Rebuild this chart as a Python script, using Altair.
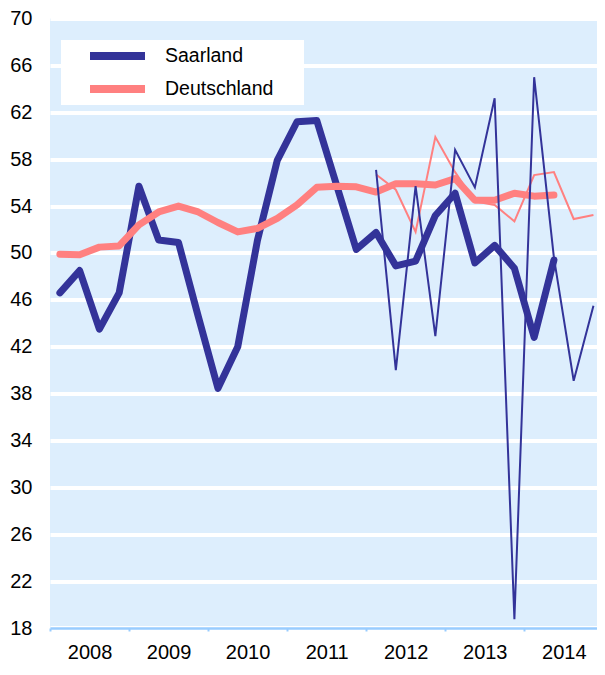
import altair as alt
import pandas as pd

# Quarterly periods 2008Q1 .. 2014Q4
quarters = [f"{y}Q{q}" for y in range(2008, 2015) for q in range(1, 5)]
years = [2008, 2009, 2010, 2011, 2012, 2013, 2014]

# Thick lines (2008Q1 .. 2014Q2)
saar_trend = [46.6, 48.5, 43.5, 46.6, 55.7, 51.1, 50.9, 44.6, 38.45, 42.0,
              51.1, 57.9, 61.2, 61.3, 55.8, 50.3, 51.75, 48.9, 49.3, 53.2,
              55.1, 49.15, 50.65, 48.7, 42.8, 49.4]
de_trend = [49.9, 49.85, 50.5, 50.6, 52.4, 53.5, 54.0, 53.5, 52.6, 51.8,
            52.1, 52.95, 54.1, 55.6, 55.7, 55.65, 55.2, 55.9, 55.9, 55.8,
            56.35, 54.5, 54.5, 55.1, 54.85, 54.95]
# Thin lines (2012Q1 .. 2014Q4)
saar_raw = [57.1, 40.0, 55.7, 42.9, 58.8, 55.6, 63.2, 18.75, 65.0, 49.6, 39.1, 45.5]
de_raw = [56.7, 55.4, 51.8, 59.9, 56.9, 54.4, 54.1, 52.7, 56.65, 56.9, 52.9, 53.25]

regions = ["Saarland", "Deutschland"]
colors = ["#333399", "#FF8080"]


def qpos(q):
    return int(q[:4]) + (int(q[-1]) - 0.5) / 4


def frame(values, start, region):
    qs = quarters[start:start + len(values)]
    return pd.DataFrame({"quarter": qs, "t": [qpos(q) for q in qs],
                         "v": values, "region": region})


trend_s = frame(saar_trend, 0, "Saarland")
trend_d = frame(de_trend, 0, "Deutschland")
raw_s = frame(saar_raw, 16, "Saarland")
raw_d = frame(de_raw, 16, "Deutschland")

FONT = "Liberation Sans"
PLOT_W = 547
X_MAX = 2014.92

x_enc = alt.X("t:Q",
              scale=alt.Scale(domain=[2008, X_MAX], nice=False, zero=False),
              axis=alt.Axis(values=years, format="d",
                            labelOffset=PLOT_W / (X_MAX - 2008) / 2, labelFlush=False,
                            labelOverlap=False, ticks=True, tickSize=3, tickWidth=2,
                            tickColor="#99CCFF", domainColor="#99CCFF", domainWidth=2.5,
                            grid=False, labelFontSize=20, labelColor="black", labelFont=FONT,
                            labelPadding=11, title=None))
y_enc = alt.Y("v:Q",
              scale=alt.Scale(domain=[18, 70], nice=False, zero=False),
              axis=alt.Axis(values=list(range(18, 71, 4)), domain=False, ticks=False,
                            grid=True, gridColor="white", gridWidth=4, labelFontSize=20,
                            labelColor="black", labelFont=FONT, labelPadding=18,
                            title=None, minExtent=42, maxExtent=42))

color_scale = alt.Scale(domain=regions, range=colors)
legend = alt.Legend(title="\u00a0", titleOrient="right", titlePadding=30,
                    titleColor="white", titleFontSize=10,
                    orient="none", legendX=11, legendY=21.4,
                    fillColor="white", padding=1, symbolType="stroke",
                    symbolStrokeWidth=8, symbolSize=3025, symbolOffset=24,
                    labelOffset=16, labelFontSize=19.5, labelFont=FONT,
                    labelColor="black", clipHeight=30, rowPadding=3)

line_thick = dict(strokeWidth=7, strokeCap="round", strokeJoin="round")

thick_s = alt.Chart(trend_s).mark_line(**line_thick).encode(
    x=x_enc, y=y_enc, color=alt.Color("region:N", scale=color_scale, legend=legend))
thick_d = alt.Chart(trend_d).mark_line(**line_thick).encode(
    x=x_enc, y=y_enc, color=alt.Color("region:N", scale=color_scale, legend=legend))
thin_d = alt.Chart(raw_d).mark_line(strokeWidth=2).encode(
    x=x_enc, y=y_enc, color=alt.Color("region:N", scale=color_scale, legend=None))
thin_s = alt.Chart(raw_s).mark_line(strokeWidth=2).encode(
    x=x_enc, y=y_enc, color=alt.Color("region:N", scale=color_scale, legend=None))

chart = alt.layer(thick_s, thick_d, thin_d, thin_s).properties(
    width=PLOT_W, height=609.4,
    autosize=alt.AutoSizeParams(type="none"),
    padding={"left": 42, "top": 10.6, "right": 0, "bottom": 35},
).configure(font=FONT).configure_view(fill="#DDEEFD", stroke=None)

chart.save("out.html", embed_options={"renderer": "svg", "actions": False})
